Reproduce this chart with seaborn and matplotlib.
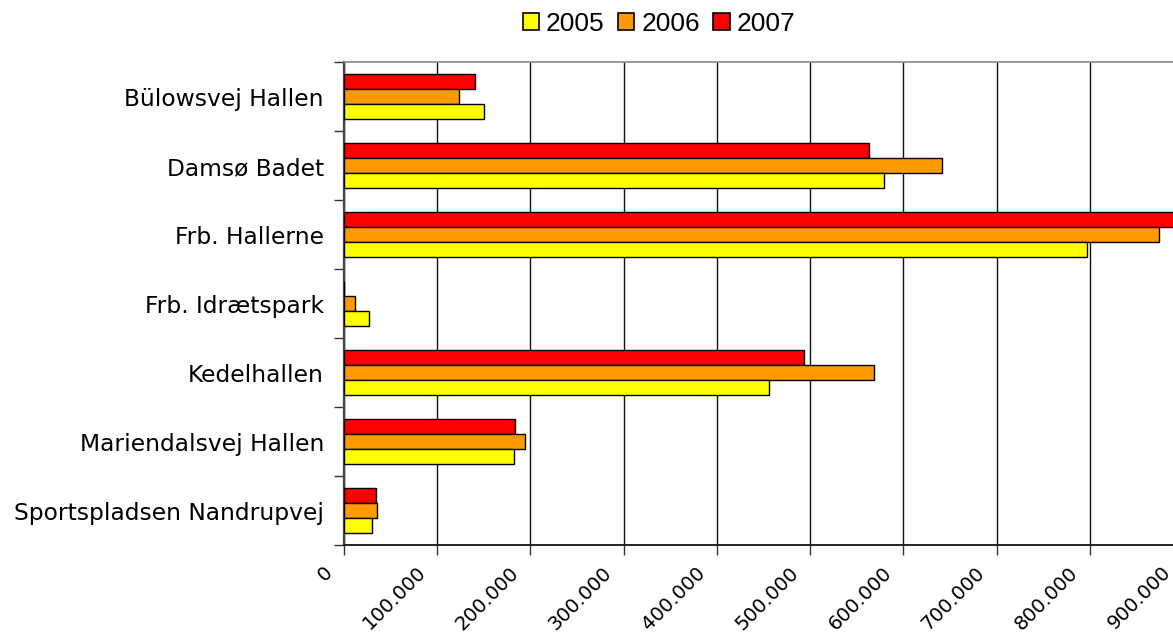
import numpy as np
import pandas as pd
import matplotlib
matplotlib.use('Agg')
import matplotlib.pyplot as plt
import matplotlib.transforms as mtransforms
from matplotlib.patches import Patch
import seaborn as sns

# ── Data ─────────────────────────────────────────────────────────────────────
VENUES = ['Bülowsvej Hallen', 'Damsø Badet', 'Frb. Hallerne', 'Frb. Idrætspark',
          'Kedelhallen', 'Mariendalsvej Hallen', 'Sportspladsen Nandrupvej']
YEARS = ['2005', '2006', '2007']
V2005 = [150000, 579000, 797000, 27000, 456000, 182000, 30000]
V2006 = [123000, 642000, 874000, 12000, 568000, 194000, 35000]
V2007 = [141000, 563000, 898000, 0, 493000, 183000, 34000]
XTICKS = [0, 100000, 200000, 300000, 400000, 500000, 600000, 700000, 800000, 900000]

# ── Palette ──────────────────────────────────────────────────────────────────
COLORS = {'2005': '#FFFF00', '2006': '#FF9900', '2007': '#FF0000'}

df = pd.DataFrame({
    'venue': VENUES * 3,
    'year': ['2005'] * 7 + ['2006'] * 7 + ['2007'] * 7,
    'value': V2005 + V2006 + V2007,
})

sns.set_style('white')
plt.rcParams['font.family'] = ['DejaVu Sans']
plt.rcParams['text.color'] = 'black'

W, H = 1173, 637
fig = plt.figure(figsize=(W / 100, H / 100), dpi=100)
# plot area runs past the right edge, as in the cropped original
ax = fig.add_axes([344 / W, 1 - 545.3 / H, (1183 - 344) / W, (545.3 - 62.3) / H])

sns.barplot(data=df, x='value', y='venue', hue='year', orient='h',
            hue_order=['2007', '2006', '2005'], palette=COLORS,
            width=0.65, edgecolor='black', linewidth=1, saturation=1,
            legend=False, ax=ax, zorder=3)

ax.set_xlim(0, 900000)
ax.set_ylim(6.5, -0.5)
ax.set_xlabel('')
ax.set_ylabel('')

# x axis (tick_params first: a pad change resets the label transforms)
ax.tick_params(axis='x', which='major', length=7, width=1, direction='out',
               color='#333333', bottom=True, pad=2)
ax.set_xticks(XTICKS)
ax.set_xticklabels([f"{v:,}".replace(',', '.') for v in XTICKS],
                   rotation=45, ha='right', va='top', fontsize=14.2, color='black')
offset = mtransforms.ScaledTranslation(-8 / 100, -5 / 100, fig.dpi_scale_trans)
for lbl in ax.get_xticklabels():
    lbl.set_transform(lbl.get_transform() + offset)
ax.grid(axis='x', color='#111111', linewidth=1, zorder=0)
ax.grid(axis='y', visible=False)

# y axis: labels at centres, marks at group boundaries
ax.tick_params(axis='y', which='major', length=0, pad=14.4, labelsize=16.8,
               labelcolor='black')
ax.set_yticks(np.arange(-0.5, 7, 1), minor=True)
ax.tick_params(axis='y', which='minor', length=7, width=1, direction='out',
               color='#333333', left=True)

ax.spines['right'].set_visible(False)
ax.spines['top'].set_color('#888888')
ax.spines['top'].set_linewidth(1.2)
ax.spines['left'].set_color('#444444')
ax.spines['left'].set_linewidth(1.6)
ax.spines['bottom'].set_color('#222222')
ax.spines['bottom'].set_linewidth(1.4)
ax.set_axisbelow(True)

# legend
handles = [Patch(facecolor=COLORS[y], edgecolor='black', linewidth=1.2, label=y)
           for y in YEARS]
fig.legend(handles=handles, loc='center', bbox_to_anchor=(659 / W, 1 - 24 / H),
           ncol=3, frameon=False, prop={'family': 'Liberation Sans', 'size': 19},
           handlelength=0.62, handleheight=0.62, handletextpad=0.27,
           columnspacing=0.5, borderaxespad=0, labelcolor='black')

fig.savefig('out.png', dpi=100, facecolor='white')
